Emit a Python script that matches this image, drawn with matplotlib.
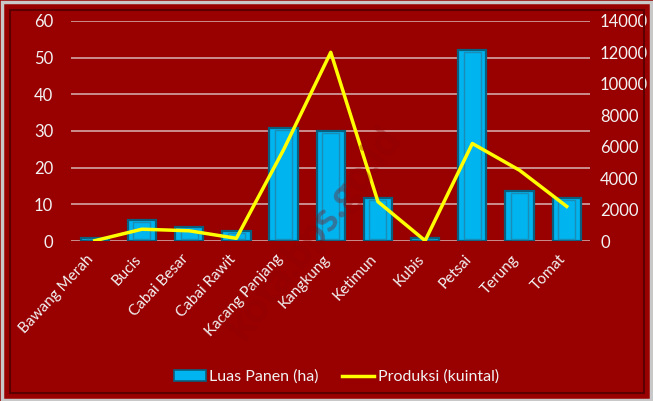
import matplotlib.pyplot as plt
import matplotlib.transforms as mtransforms
from matplotlib.patches import Rectangle
from matplotlib.lines import Line2D

# data
komoditas = ["Bawang Merah", "Bucis", "Cabai Besar", "Cabai Rawit", "Kacang Panjang",
             "Kangkung", "Ketimun", "Kubis", "Petsai", "Terung", "Tomat"]
luas_panen = [0.7, 5.7, 3.7, 2.7, 30.8, 30, 11.7, 0.7, 52, 13.6, 11.7]
produksi = [20, 750, 650, 170, 5800, 12000, 2500, 20, 6200, 4500, 2200]

bg = "#990000"
txt = "#f2f2f2"
plt.rcParams["font.family"] = ["Lato", "DejaVu Sans"]

fig = plt.figure(figsize=(6.53, 4.01), dpi=100, facecolor=bg)
ax = fig.add_axes([0.109, 0.399, 0.795, 0.549])
ax.set_facecolor(bg)

x = range(len(komoditas))
ax.bar(x, luas_panen, width=0.6, color="#00b4ef", edgecolor="#0a5f7e", linewidth=1.6, zorder=3)
# efek bevel sederhana
ax.bar(x, [max(v - 1.2, 0) for v in luas_panen], bottom=0.6, width=0.36, color="none",
       edgecolor="#1a8cb5", linewidth=1.0, zorder=4)

ax.set_xlim(-0.5, len(komoditas) - 0.5)
ax.set_ylim(0, 60)
ax.set_yticks(range(0, 61, 10))
ax.grid(axis="y", color="#d9b3b3", linewidth=1.1, zorder=0)
ax.set_xticks(list(x))
ax.set_xticklabels(komoditas, rotation=47, ha="right", rotation_mode="anchor", color=txt, fontsize=11)
ax.tick_params(axis="y", colors=txt, labelsize=12, length=0, pad=13)
ax.tick_params(axis="x", length=0, pad=8)
# geser label sedikit ke kiri seperti di gambar asli
geser = mtransforms.ScaledTranslation(-6 / 72, 0, fig.dpi_scale_trans)
for lbl in ax.get_xticklabels():
    lbl.set_transform(lbl.get_transform() + geser)
for s in ax.spines.values():
    s.set_visible(False)

ax2 = ax.twinx()
ax2.plot(x, produksi, color="#ffff00", linewidth=2.5, zorder=5)
ax2.set_ylim(0, 14000)
ax2.set_yticks(range(0, 14001, 2000))
ax2.tick_params(axis="y", colors=txt, labelsize=12, length=0, pad=7)
for s in ax2.spines.values():
    s.set_visible(False)

# legenda
h1 = Rectangle((0, 0), 1, 1, facecolor="#00b4ef", edgecolor="#0a5f7e", linewidth=1.2)
h2 = Line2D([], [], color="#ffff00", linewidth=2.5)
leg = fig.legend([h1, h2], ["Luas Panen (ha)", "Produksi (kuintal)"], loc="center",
                 bbox_to_anchor=(0.515, 0.06), ncol=2, frameon=False, fontsize=11.5,
                 handlelength=2.0, columnspacing=1.5, handletextpad=0.2)
for t in leg.get_texts():
    t.set_color(txt)

# watermark
fig.text(0.48, 0.42, "kota.bps.go.id", rotation=52, fontsize=30, color="#8f0000",
         ha="center", va="center", fontweight="bold", zorder=0, alpha=0.35)

# bingkai
fig.patches.append(Rectangle((0.003, 0.003), 0.994, 0.992, transform=fig.transFigure,
                             fill=False, edgecolor="#c8c8c8", linewidth=2.5))
fig.patches.append(Rectangle((0.016, 0.02), 0.97, 0.955, transform=fig.transFigure,
                             fill=False, edgecolor="#5a0000", linewidth=1.5))

fig.savefig("out.png", dpi=100, facecolor=bg)
